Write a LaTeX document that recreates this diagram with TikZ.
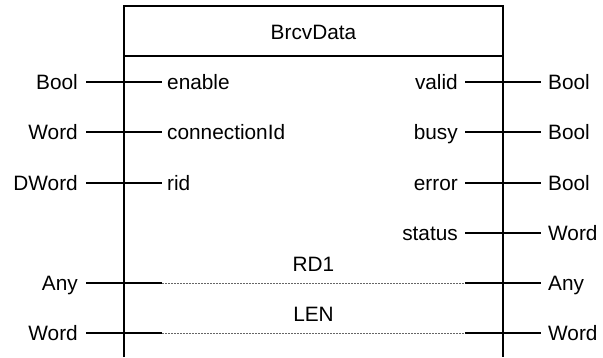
\documentclass[tikz,border=0pt]{standalone}
\usepackage{fontspec}
\setmainfont{Liberation Sans}
\begin{document}
\begin{tikzpicture}[x=1pt,y=-1pt,
  lbl/.style={inner sep=0pt,font=\fontsize{20.8}{24}\selectfont},
  pin/.style={line width=1.5pt},
  frame/.style={line width=1.8pt},
  dots/.style={line width=0.8pt,draw=black!60,dash pattern=on 2pt off 1pt}]
\useasboundingbox (0,0) rectangle (603,357);
% block
\coordinate (bl) at (124,357);
\coordinate (tl) at (124,6);
\coordinate (tr) at (503,6);
\coordinate (br) at (503,357);
\coordinate (hl) at (124,56);
\coordinate (hr) at (503,56);
\draw[frame] (bl) -- (tl) -- (tr) -- (br);
\draw[frame] (hl) -- (hr);
\node[lbl,anchor=base] (title) at (313.5,39) {BrcvData};
% left inputs
\foreach \n/\y/\t/\p in {a/82/Bool/enable, b/132/Word/connectionId, c/183/DWord/rid, e/283/Any/{}, f/333/Word/{}}{
  \coordinate (la\n) at (86,\y);
  \coordinate (lb\n) at (162,\y);
  \draw[pin] (la\n) -- (lb\n);
  \node[lbl,anchor=base east] (lt\n) at ([xshift=-8pt,yshift=-7.5pt]la\n) {\t};
  \node[lbl,anchor=base west] (lp\n) at ([xshift=5pt,yshift=-7.5pt]lb\n) {\p};
}
% right outputs
\foreach \n/\y/\t/\p in {a/82/Bool/valid, b/132/Bool/busy, c/183/Bool/error, d/233/Word/status, e/283/Any/{}, f/333/Word/{}}{
  \coordinate (ra\n) at (465,\y);
  \coordinate (rb\n) at (541,\y);
  \draw[pin] (ra\n) -- (rb\n);
  \node[lbl,anchor=base west] (rt\n) at ([xshift=7pt,yshift=-7.5pt]rb\n) {\t};
  \node[lbl,anchor=base east] (rp\n) at ([xshift=-7pt,yshift=-7.5pt]ra\n) {\p};
}
% in/out pairs
\draw[dots] (lbe) -- (rae);
\draw[dots] (lbf) -- (raf);
\node[lbl,anchor=base] (rd1) at (313.5,271) {RD1};
\node[lbl,anchor=base] (len) at (313.5,321) {LEN};
\end{tikzpicture}
\end{document}
